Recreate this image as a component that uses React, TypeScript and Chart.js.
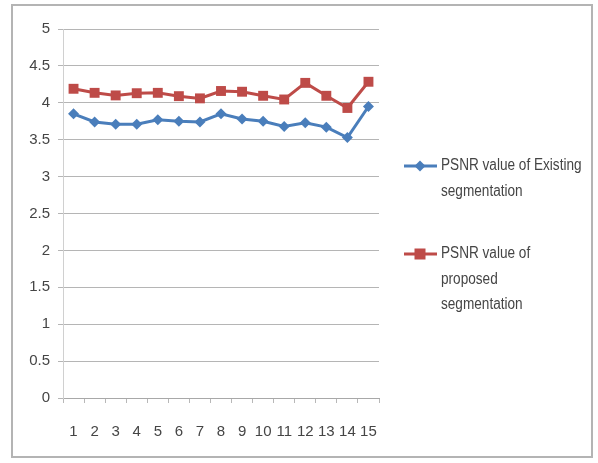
import React, { useEffect, useRef } from "react";
import { Chart, registerables } from "chart.js";

Chart.register(...registerables);

const categories = ["1", "2", "3", "4", "5", "6", "7", "8", "9", "10", "11", "12", "13", "14", "15"];
const existingValues = [3.85, 3.74, 3.71, 3.71, 3.77, 3.75, 3.74, 3.85, 3.78, 3.75, 3.68, 3.73, 3.67, 3.53, 3.95];
const proposedValues = [4.19, 4.135, 4.1, 4.13, 4.135, 4.09, 4.06, 4.16, 4.15, 4.095, 4.045, 4.27, 4.095, 3.93, 4.285];
const existingLegend = ["PSNR value of Existing", "segmentation"];
const proposedLegend = ["PSNR value of", "proposed", "segmentation"];
const yMin = 0;
const yMax = 5;
const yStep = 0.5;

const BLUE = "#4A7EBB";
const RED = "#BE4B48";
const FONT = "'Liberation Sans', Arial, sans-serif";

const legendPlugin = {
  id: "sideLegend",
  afterDraw(chart: any) {
    const ctx = chart.ctx;
    const entries = [
      { lines: existingLegend, color: BLUE, style: "diamond", y: 166 },
      { lines: proposedLegend, color: RED, style: "square", y: 254 },
    ];
    ctx.save();
    for (const e of entries) {
      ctx.strokeStyle = e.color;
      ctx.lineWidth = 3;
      ctx.beginPath();
      ctx.moveTo(404, e.y);
      ctx.lineTo(437, e.y);
      ctx.stroke();
      ctx.fillStyle = e.color;
      if (e.style === "square") {
        ctx.fillRect(420 - 5.5, e.y - 5.5, 11, 11);
      } else {
        ctx.beginPath();
        ctx.moveTo(420, e.y - 5.5);
        ctx.lineTo(425.5, e.y);
        ctx.lineTo(420, e.y + 5.5);
        ctx.lineTo(414.5, e.y);
        ctx.closePath();
        ctx.fill();
      }
      ctx.fillStyle = "#454545";
      ctx.font = `16px ${FONT}`;
      ctx.textAlign = "left";
      ctx.textBaseline = "middle";
      e.lines.forEach((t, i) => {
        ctx.save();
        ctx.translate(441, e.y + i * 25.5);
        ctx.scale(0.85, 1);
        ctx.fillText(t, 0, 0);
        ctx.restore();
      });
    }
    ctx.restore();
  },
};

export default function App() {
  const ref = useRef<HTMLCanvasElement | null>(null);
  useEffect(() => {
    if (!ref.current) return;
    const chart = new Chart(ref.current, {
      type: "line",
      data: {
        labels: categories,
        datasets: [
          {
            label: existingLegend.join(" "),
            data: existingValues,
            borderColor: BLUE,
            backgroundColor: BLUE,
            borderWidth: 3,
            pointStyle: "rectRot",
            pointRadius: 5.5,
            pointBorderWidth: 0,
            tension: 0,
          },
          {
            label: proposedLegend.join(" "),
            data: proposedValues,
            borderColor: RED,
            backgroundColor: RED,
            borderWidth: 3,
            pointStyle: "rect",
            pointRadius: 7,
            pointBorderWidth: 0,
            tension: 0,
          },
        ],
      },
      options: {
        responsive: false,
        animation: false,
        devicePixelRatio: 1,
        layout: { padding: { left: 20, right: 219, top: 29, bottom: 20 } },
        plugins: {
          legend: { display: false },
          tooltip: { enabled: false },
        },
        scales: {
          x: {
            offset: true,
            grid: {
              display: true,
              drawOnChartArea: false,
              drawTicks: true,
              tickLength: 5,
              color: "#b8b8b8",
              offset: true,
            },
            border: { display: true, color: "#a8a8a8", width: 1 },
            ticks: {
              color: "#454545",
              font: { family: FONT, size: 15 },
              padding: 20,
              maxRotation: 0,
              autoSkip: false,
            },
            afterFit(scale: any) {
              scale.height = 45;
            },
          },
          y: {
            min: yMin,
            max: yMax,
            grid: {
              color: "#b5b5b5",
              lineWidth: 1,
              drawTicks: true,
              tickLength: 5,
            },
            border: { display: true, color: "#d0d0d0", width: 1 },
            ticks: {
              stepSize: yStep,
              color: "#454545",
              font: { family: FONT, size: 15 },
              padding: 8,
              callback: (v: any) => String(Math.round(Number(v) * 10) / 10),
            },
            afterFit(scale: any) {
              scale.width = 43;
            },
          },
        },
      },
      plugins: [legendPlugin],
    });
    return () => chart.destroy();
  }, []);

  return (
    <div style={{ position: "fixed", left: 0, top: 0, width: 598, height: 463, background: "#fff" }}>
      <div
        style={{
          position: "absolute",
          left: 11,
          top: 4,
          width: 582,
          height: 454,
          border: "2px solid #b4b4b4",
          boxSizing: "border-box",
        }}
      />
      <canvas ref={ref} width={598} height={463} style={{ position: "absolute", left: 0, top: 0 }} />
    </div>
  );
}
